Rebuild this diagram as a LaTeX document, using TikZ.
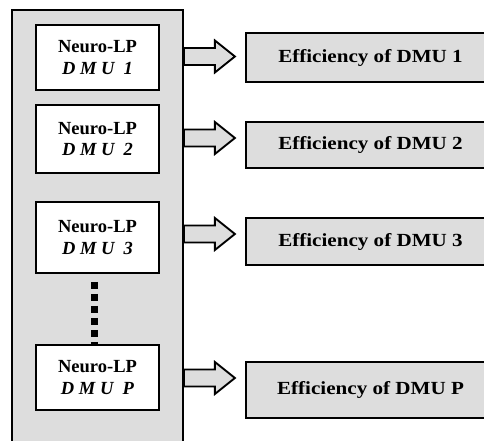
\documentclass[tikz,border=0pt]{standalone}
\usepackage{fontspec}
\setmainfont{Liberation Serif}
\definecolor{boxgray}{RGB}{221,221,221}
\tikzset{
  outerbox/.style={draw, fill=boxgray, line width=1.9pt, inner sep=0pt, anchor=north west},
  dmubox/.style={draw, fill=white, line width=1.6pt, minimum width=123pt, align=center, inner sep=0pt,
    font=\bfseries\fontsize{18.5}{21.5}\selectfont},
  effbox/.style={draw, fill=boxgray, line width=2pt, minimum width=249pt, anchor=west, inner sep=0pt,
    font=\bfseries\fontsize{18.5}{21.5}\selectfont},
  fatarrow/.style={draw, fill=boxgray, line width=1.9pt, line join=miter},
  dotcol/.style={line width=7pt, dash pattern=on 7pt off 5pt}
}
\newcommand{\efftext}[1]{\scalebox{1.14}[1]{#1}}
\begin{document}
\begin{tikzpicture}[x=1pt,y=-1pt]
\useasboundingbox (0,0) rectangle (484,441);
\clip (0,0) rectangle (484,441);
\node[outerbox, minimum width=171pt, minimum height=450pt] (outer) at (11,9) {};
% DMU boxes
\node[dmubox, minimum height=65pt] (d1) at (97.5,57.5) {Neuro-LP\\ \textit{D M U\ \ 1}};
\node[dmubox, minimum height=68pt] (d2) at (97.5,139) {Neuro-LP\\ \textit{D M U\ \ 2}};
\node[dmubox, minimum height=71pt] (d3) at (97.5,237.5) {Neuro-LP\\ \textit{D M U\ \ 3}};
\node[dmubox, minimum height=65pt] (dP) at (97.5,377.5) {Neuro-LP\\ \textit{D M U\ \ P}};
% efficiency boxes
\node[effbox, minimum height=49pt] (e1) at (245,57.5) {\efftext{Efficiency of DMU 1}};
\node[effbox, minimum height=46pt] (e2) at (245,145) {\efftext{Efficiency of DMU 2}};
\node[effbox, minimum height=47pt] (e3) at (245,241.5) {\efftext{Efficiency of DMU 3}};
\node[effbox, minimum height=56pt] (eP) at (245,390) {\efftext{Efficiency of DMU P}};
% dotted column
\draw[dotcol] ([xshift=-3.5pt,yshift=-8pt]d3.south) -- ([xshift=-3.5pt]dP.north);
% fat arrows from the outer box towards the efficiency boxes
\foreach \y in {56.5,138,234,378}{
  \draw[fatarrow] (outer.east |- 0,\y) ++(0,-8.5) -- ++(31,0) -- ++(0,-7.5) -- ++(20,16)
    -- ++(-20,16) -- ++(0,-7.5) -- ++(-31,0) -- cycle;
}
\end{tikzpicture}
\end{document}
